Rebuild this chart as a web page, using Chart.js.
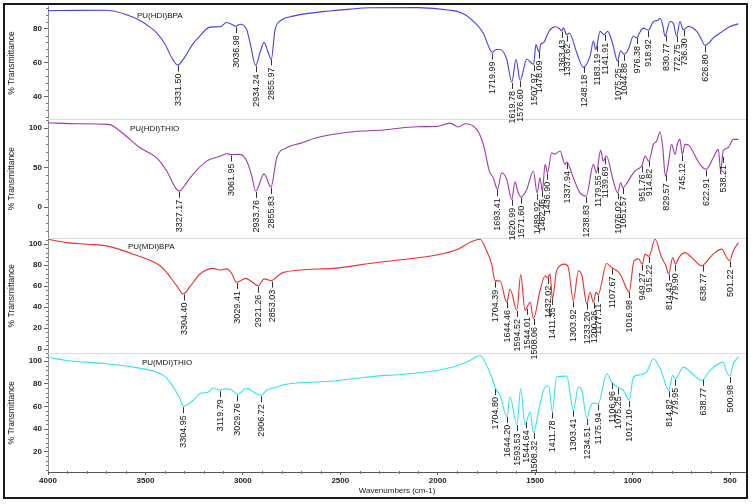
<!DOCTYPE html>
<html>
<head>
<meta charset="utf-8">
<script src="https://cdn.jsdelivr.net/npm/chart.js@4.4.1/dist/chart.umd.min.js"></script>
<style>
  html, body { margin: 0; padding: 0; background: #fff; }
  #wrap { position: relative; width: 753px; height: 504px; }
  #frame { position: absolute; left: 3px; top: 3px; width: 741px; height: 492px; border: 2px solid #1a1a1a; pointer-events: none; }
  canvas { position: absolute; left: 0; top: 0; }
</style>
</head>
<body>
<div id="wrap">
  <canvas id="ftir" width="753" height="504"></canvas>
  <div id="frame"></div>
</div>
<script>
// spectra: [wavenumber (cm-1), % transmittance]
const hdiBpa = [
  [4000, 90.7], [3850, 90.9], [3700, 91.0], [3600, 88.5], [3530, 85], [3477, 81], [3441, 77.5], [3400, 71],
  [3365, 63], [3334, 58.6], [3300, 63], [3260, 70.5], [3220, 75.8], [3169, 81], [3117, 81.2], [3083, 83.7],
  [3050, 82.3], [3037, 81.5], [3015, 82.7], [2980, 79.4], [2963, 71.7], [2934, 58.4], [2912, 66], [2891, 72],
  [2870, 66], [2854, 62], [2835, 79.4], [2801, 85.2], [2743, 87.5], [2621, 89.7], [2450, 91.6], [2350, 92.4],
  [2100, 92.5], [1937, 91], [1880, 89.5], [1834, 86.2], [1767, 77.5], [1732, 67.8], [1720, 66], [1700, 67.8],
  [1680, 67.8], [1646, 62], [1620, 48.5], [1598, 62], [1577, 49.5], [1543, 62], [1508, 59], [1496, 70.7],
  [1490, 69], [1479, 66], [1472, 70.7], [1455, 72], [1441, 75.6], [1424, 79.4], [1393, 81.2], [1375, 80],
  [1363, 78.8], [1355, 80.6], [1338, 76.5], [1325, 77.5], [1287, 66], [1253, 57.2], [1218, 64], [1201, 72.7],
  [1189, 67.8], [1167, 78.5], [1147, 76.5], [1128, 78.5], [1099, 69.8], [1078, 61], [1061, 67], [1044, 65],
  [1022, 67.8], [996, 75.6], [979, 74.6], [965, 77.5], [945, 80.4], [919, 79.2], [893, 84.3], [870, 85],
  [859, 86.2], [845, 82], [834, 75.6], [808, 84.3], [790, 83], [774, 75.6], [757, 84.3], [740, 79.4],
  [714, 81.4], [671, 78.5], [650, 74.5], [628, 70.2], [605, 72], [586, 74.6], [551, 77.5], [500, 81.4], [457, 82.9]
];
const hdiThio = [
  [4000, 106.7], [3850, 105.5], [3690, 104.7], [3600, 90], [3528, 75], [3442, 62.4], [3391, 45.6], [3340, 22.4],
  [3325, 20.3], [3300, 27], [3271, 37], [3186, 58.2], [3120, 64], [3083, 67.5], [3062, 66.5], [3015, 66.7],
  [2980, 58.2], [2955, 40], [2934, 20.3], [2891, 42], [2856, 25.3], [2826, 62.4], [2775, 75], [2707, 80.6],
  [2621, 87.7], [2450, 95], [2279, 97.5], [2108, 101.7], [2005, 102], [1937, 106.3], [1894, 101.3], [1860, 105.4],
  [1800, 98.3], [1766, 79.4], [1735, 45.6], [1715, 37], [1693, 22.4], [1672, 43.4], [1646, 35], [1620, 9.7],
  [1603, 32], [1590, 20.3], [1573, 12.7], [1543, 22.4], [1509, 45.6], [1490, 18], [1475, 37], [1463, 20.3],
  [1449, 54], [1437, 43.4], [1415, 68.7], [1400, 67], [1372, 71], [1347, 54], [1338, 57], [1304, 37],
  [1270, 18], [1238, 14], [1201, 54], [1186, 43.4], [1164, 71.8], [1150, 58], [1135, 65], [1099, 33],
  [1077, 18], [1061, 30.8], [1050, 24.4], [1030, 30], [996, 43.4], [975, 48], [953, 52], [936, 64.5],
  [917, 58], [893, 79.4], [876, 83.5], [859, 95.3], [845, 75], [832, 39.2], [817, 54], [800, 79.4],
  [782, 66.7], [770, 80], [757, 85.7], [745, 66.7], [731, 79.4], [710, 78], [688, 68.7], [654, 54],
  [623, 47.7], [586, 62.4], [560, 73], [548, 45.6], [535, 71], [510, 75], [483, 85.7], [457, 85.7]
];
const mdiBpa = [
  [4000, 104.7], [3904, 101.5], [3800, 100], [3699, 98.4], [3562, 90.5], [3425, 79.5], [3391, 73], [3340, 60.5],
  [3306, 52.7], [3270, 60], [3220, 71.6], [3152, 77], [3117, 75.5], [3085, 76.5], [3060, 73], [3032, 63.7],
  [3005, 66], [2985, 67.5], [2960, 65], [2921, 60.5], [2890, 67], [2853, 65.3], [2820, 70], [2792, 73.2],
  [2536, 77], [2313, 82.6], [2200, 85], [2000, 90], [1900, 95], [1830, 102], [1783, 104.7], [1749, 93.7],
  [1723, 81], [1706, 65.3], [1680, 65], [1646, 44.8], [1629, 57.4], [1594, 37], [1574, 71], [1552, 37],
  [1526, 44.8], [1509, 29], [1475, 55.8], [1449, 70], [1435, 68], [1424, 71.6], [1411, 48], [1390, 74.7],
  [1347, 81], [1330, 78], [1304, 46.4], [1278, 74.7], [1260, 70], [1235, 43.2], [1218, 54.2], [1201, 44.8],
  [1188, 54.2], [1177, 52], [1133, 81.7], [1108, 77.9], [1064, 71.6], [1030, 57.4], [1018, 54.2], [993, 84.2],
  [970, 86], [950, 81], [936, 90.5], [916, 88.5], [885, 104.7], [851, 87.3], [830, 80], [815, 71.6],
  [794, 87.3], [780, 81], [760, 88], [731, 92], [700, 88], [645, 79.5], [603, 87.3], [577, 92],
  [543, 95.3], [517, 87.3], [502, 84.2], [483, 93.7], [457, 101.5]
];
const mdiThio = [
  [4000, 103.5], [3904, 100.6], [3699, 97.7], [3562, 94.7], [3408, 87.4], [3374, 81.5], [3323, 67], [3305, 60.2],
  [3254, 65.4], [3220, 71.3], [3177, 72.7], [3152, 76.3], [3120, 74.2], [3090, 75.5], [3060, 75], [3028, 70.5],
  [2980, 76.3], [2940, 72], [2906, 69.8], [2878, 74.2], [2826, 77.1], [2792, 79.2], [2536, 82.4], [2313, 86.8],
  [2200, 88], [2000, 92], [1900, 96], [1830, 101], [1783, 105], [1749, 96.2], [1723, 86], [1705, 76.3],
  [1680, 69.8], [1645, 50.8], [1629, 68.4], [1594, 43.5], [1574, 75.7], [1552, 43.5], [1526, 55.2], [1509, 37],
  [1475, 62.5], [1449, 77.1], [1430, 78], [1412, 55.2], [1390, 86], [1338, 86.8], [1304, 56.7], [1278, 77.1],
  [1260, 74], [1235, 49.4], [1218, 59.6], [1200, 63], [1176, 62.5], [1133, 88.9], [1107, 81.5], [1078, 77.1],
  [1047, 74.2], [1017, 65.4], [996, 86], [960, 88], [928, 90.3], [893, 102.1], [851, 90.3], [815, 74.2],
  [794, 87.4], [780, 84.5], [740, 94.7], [700, 90], [645, 83], [603, 91.8], [535, 99.1], [520, 91.8],
  [501, 86.8], [483, 97.7], [457, 104.1]
];

// labelled peaks
const hdiBpaPeaks = [3331.50, 3036.98, 2934.24, 2855.97, 1719.99, 1619.78, 1576.60, 1507.97, 1478.09, 1363.43, 1337.62,
  1248.18, 1183.19, 1141.91, 1075.25, 1044.88, 976.38, 918.92, 830.77, 772.75, 736.30, 626.80];
const hdiThioPeaks = [3327.17, 3061.95, 2933.76, 2855.83, 1693.41, 1620.99, 1571.60, 1489.92, 1462.46, 1436.90, 1337.94,
  1238.83, 1179.55, 1139.69, 1076.02, 1051.57, 951.76, 914.82, 829.57, 745.12, 622.91, 538.21];
const mdiBpaPeaks = [3304.40, 3029.41, 2921.26, 2853.03, 1704.39, 1644.46, 1594.52, 1544.01, 1508.06, 1432.02, 1411.35,
  1303.92, 1233.20, 1200.26, 1177.11, 1107.67, 1016.98, 949.27, 915.22, 814.43, 779.90, 638.77, 501.22];
const mdiThioPeaks = [3304.95, 3119.79, 3029.76, 2906.72, 1704.80, 1644.20, 1593.53, 1544.64, 1508.32, 1411.78, 1303.41,
  1234.51, 1175.94, 1106.96, 1075.25, 1017.10, 814.82, 779.95, 638.77, 500.98];

const sampleNames = ['PU(HDI)BPA', 'PU(HDI)THIO', 'PU(MDI)BPA', 'PU(MDI)THIO'];

// tick labels
const xTicks = [4000, 3500, 3000, 2500, 2000, 1500, 1000, 500];
const hdiBpaTicks = [40, 60, 80];
const hdiThioTicks = [0, 50, 100];
const mdiBpaTicks = [0, 20, 40, 60, 80, 100];
const mdiThioTicks = [20, 40, 60, 80, 100];

const FONT = '"Liberation Sans", Arial, sans-serif';
Chart.defaults.font.family = FONT;

// panel setup, top to bottom
const panels = [
  { id: 'y1', name: sampleNames[0], data: hdiBpa, peaks: hdiBpaPeaks, ticks: hdiBpaTicks, color: 'rgb(66,66,222)', min: 26.5, max: 93, weight: 113, titleDx: 89 },
  { id: 'y2', name: sampleNames[1], data: hdiThio, peaks: hdiThioPeaks, ticks: hdiThioTicks, color: 'rgb(158,58,170)', min: -39, max: 111, weight: 119, titleDx: 82 },
  { id: 'y3', name: sampleNames[2], data: mdiBpa, peaks: mdiBpaPeaks, ticks: mdiBpaTicks, color: 'rgb(232,48,48)', min: -4, max: 106, weight: 116, titleDx: 80 },
  { id: 'y4', name: sampleNames[3], data: mdiThio, peaks: mdiThioPeaks, ticks: mdiThioTicks, color: 'rgb(56,228,228)', min: 2, max: 106.8, weight: 119, titleDx: 94 }
];

function valueAt(series, wn) {
  for (let i = 0; i < series.length - 1; i++) {
    const [x0, y0] = series[i];
    const [x1, y1] = series[i + 1];
    if (wn <= x0 && wn >= x1) {
      return y0 + (y1 - y0) * (x0 - wn) / (x0 - x1);
    }
  }
  return series[series.length - 1][1];
}

const scales = {
  x: {
    type: 'linear',
    position: 'bottom',
    reverse: true,
    min: 418,
    max: 4000,
    border: { display: true, color: '#555', width: 1 },
    grid: { drawOnChartArea: false, drawTicks: true, tickLength: 3, color: '#555' },
    ticks: { padding: 1, maxRotation: 0, autoSkip: false, color: '#222', font: { size: 8, weight: 'bold' }, callback: v => String(v) },
    title: { display: true, text: 'Wavenumbers (cm-1)', color: '#222', font: { size: 8 }, padding: { top: 0, bottom: 2 } },
    afterBuildTicks(s) { s.ticks = xTicks.map(v => ({ value: v })); },
    afterFit(s) { s.height = 26; }
  }
};

// stacked left axes are laid out last-defined on top, so add them bottom-up
[...panels].reverse().forEach(p => {
  scales[p.id] = {
    type: 'linear',
    position: 'left',
    stack: 'spectra',
    stackWeight: p.weight,
    min: p.min,
    max: p.max,
    border: { display: true, color: '#8a8a8a', width: 1 },
    grid: { drawOnChartArea: false, drawTicks: true, tickLength: 4, color: '#666' },
    ticks: { padding: 2, autoSkip: false, color: '#222', font: { size: 8, weight: 'bold' }, callback: v => String(v) },
    title: { display: true, text: '% Transmittance', color: '#222', font: { size: 8.5 }, padding: { top: 1, bottom: 0 } },
    afterBuildTicks(s) { s.ticks = p.ticks.map(v => ({ value: v })); },
    afterFit(s) { s.width = 42; }
  };
});

const panelDecor = {
  id: 'panelDecor',
  beforeDatasetsDraw(chart) {
    const { ctx, chartArea } = chart;
    ctx.save();
    ctx.strokeStyle = '#dcdcdc';
    ctx.lineWidth = 1;
    panels.forEach((p, i) => {
      if (i === 0) return;
      const y = Math.round(chart.scales[p.id].top) + 0.5;
      ctx.beginPath();
      ctx.moveTo(chartArea.left, y);
      ctx.lineTo(chartArea.right, y);
      ctx.stroke();
    });
    ctx.restore();
  },
  afterDatasetsDraw(chart) {
    const { ctx, chartArea } = chart;
    const xs = chart.scales.x;
    ctx.save();
    panels.forEach(p => {
      const ys = chart.scales[p.id];
      ctx.font = '9px ' + FONT;
      ctx.strokeStyle = '#333';
      ctx.fillStyle = '#111';
      ctx.lineWidth = 1;
      p.peaks.forEach(wn => {
        const px = Math.round(xs.getPixelForValue(wn)) + 0.5;
        const py = ys.getPixelForValue(valueAt(p.data, wn));
        ctx.beginPath();
        ctx.moveTo(px, py + 1);
        ctx.lineTo(px, py + 7);
        ctx.stroke();
        ctx.save();
        ctx.translate(px, py + 9);
        ctx.rotate(-Math.PI / 2);
        ctx.textAlign = 'right';
        ctx.textBaseline = 'middle';
        ctx.fillText(wn.toFixed(2), 0, 0);
        ctx.restore();
      });
      ctx.font = '8px ' + FONT;
      ctx.textAlign = 'left';
      ctx.textBaseline = 'middle';
      ctx.fillText(p.name, chartArea.left + p.titleDx, ys.top + 9);
    });
    ctx.restore();
  },
  afterDraw(chart) {
    const { ctx } = chart;
    const xs = chart.scales.x;
    ctx.save();
    ctx.strokeStyle = '#777';
    ctx.lineWidth = 1;
    ctx.beginPath();
    // minor ticks on the y axes, five per major step
    panels.forEach(p => {
      const ys = chart.scales[p.id];
      const step = p.ticks[1] - p.ticks[0];
      const minor = step / 5;
      const k0 = Math.ceil(p.min / minor);
      const k1 = Math.floor(p.max / minor);
      for (let k = k0; k <= k1; k++) {
        if (k % 5 === 0) continue;
        const y = Math.round(ys.getPixelForValue(k * minor)) + 0.5;
        ctx.moveTo(ys.right - 2, y);
        ctx.lineTo(ys.right, y);
      }
    });
    // minor ticks on the x axis, every 100 cm-1
    for (let v = 500; v <= 4000; v += 100) {
      if (xTicks.includes(v)) continue;
      const x = Math.round(xs.getPixelForValue(v)) + 0.5;
      ctx.moveTo(x, xs.top - 1);
      ctx.lineTo(x, xs.top + 2);
    }
    ctx.stroke();
    ctx.restore();
  }
};

new Chart(document.getElementById('ftir'), {
  type: 'line',
  data: {
    datasets: panels.map(p => ({
      label: p.name,
      data: p.data.map(([x, y]) => ({ x, y })),
      xAxisID: 'x',
      yAxisID: p.id,
      borderColor: p.color,
      borderWidth: 1.1,
      pointRadius: 0,
      cubicInterpolationMode: 'monotone',
      fill: false
    }))
  },
  options: {
    responsive: false,
    animation: false,
    layout: { padding: { left: 6, right: 7, top: 5, bottom: 6 } },
    plugins: { legend: { display: false }, tooltip: { enabled: false } },
    scales: scales
  },
  plugins: [panelDecor]
});
</script>
</body>
</html>
